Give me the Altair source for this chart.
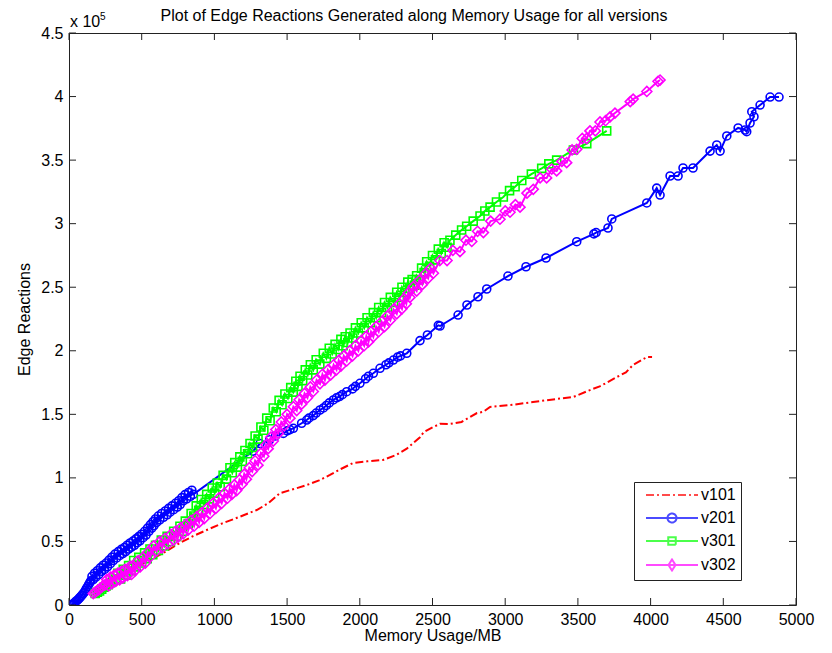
import altair as alt
import pandas as pd

# ---------------- data (memory usage in MB, edge reactions in units of 1e5) ----------------
names = ["v101", "v201", "v301", "v302"]
colors = ["#FF0000", "#0000FF", "#00FF00", "#FF00FF"]

v101_mem = [200, 300, 400, 466, 557, 650, 763, 850, 947, 1050, 1176, 1291, 1370, 1451, 1540,
            1635, 1720, 1795, 1870, 1953, 2050, 2160, 2250, 2323, 2414, 2440, 2504, 2552, 2620,
            2700, 2806, 2850, 2896, 3050, 3191, 3350, 3467, 3583, 3650, 3700, 3769, 3830, 3879,
            3976, 4010]
v101_edges = [0.13, 0.21, 0.27, 0.30, 0.354, 0.41, 0.488, 0.54, 0.59, 0.64, 0.695, 0.747, 0.80,
              0.88, 0.91, 0.944, 0.98, 1.023, 1.07, 1.117, 1.13, 1.141, 1.18, 1.23, 1.32, 1.36,
              1.40, 1.425, 1.424, 1.44, 1.51, 1.52, 1.558, 1.575, 1.597, 1.62, 1.636, 1.691,
              1.72, 1.75, 1.794, 1.83, 1.888, 1.951, 1.951]

v201_mem = [18, 25, 32, 40, 48, 56, 64, 72, 80, 88, 96, 105, 113, 120, 128, 135, 143, 150, 158,
            167, 176, 185, 195, 205, 215, 225, 235, 245, 255, 265, 275, 285, 295, 305, 316, 328,
            339, 350, 360, 370, 380, 390, 400, 410, 420, 430, 440, 450, 460, 470, 479, 488, 499,
            510, 520, 530, 540, 550, 560, 570, 578, 585, 594, 603, 614, 625, 637, 650, 662, 675,
            685, 695, 708, 720, 732, 745, 755, 765, 776, 786, 798, 810, 822, 835, 845, 855,
            1265, 1314, 1380, 1420, 1474, 1500, 1520, 1543, 1600, 1635, 1650,
            1680, 1700, 1726, 1750, 1770, 1790, 1818, 1840, 1860, 1880, 1910, 1950, 1970, 2001,
            2040, 2060, 2093, 2139, 2180, 2200, 2231, 2260, 2280, 2323, 2414, 2465, 2540, 2552,
            2676, 2737, 2813, 2873, 3019, 3143, 3281, 3492, 3610, 3625, 3707, 3733, 3974, 4042,
            4065, 4134, 4189, 4223, 4292, 4409, 4455, 4478, 4524, 4602, 4650, 4661, 4684, 4711,
            4696, 4753, 4822, 4883]
v201_edges = [0.00, 0.005, 0.012, 0.02, 0.03, 0.037, 0.045, 0.055, 0.065, 0.075, 0.088, 0.10,
              0.115, 0.13, 0.145, 0.16, 0.175, 0.19, 0.225, 0.20, 0.25, 0.22, 0.27, 0.24, 0.292,
              0.265, 0.313, 0.28, 0.33, 0.30, 0.353, 0.325, 0.377, 0.35, 0.40, 0.37, 0.42, 0.39,
              0.438, 0.405, 0.452, 0.42, 0.47, 0.44, 0.488, 0.455, 0.503, 0.47, 0.52, 0.49,
              0.538, 0.505, 0.557, 0.53, 0.58, 0.55, 0.605, 0.58, 0.632, 0.605, 0.655, 0.625,
              0.677, 0.65, 0.70, 0.67, 0.72, 0.69, 0.74, 0.71, 0.76, 0.73, 0.78, 0.75, 0.80,
              0.77, 0.82, 0.79, 0.845, 0.82, 0.868, 0.835, 0.885, 0.855, 0.903, 0.87,
              1.21, 1.27, 1.30, 1.33, 1.35, 1.37, 1.38, 1.39, 1.43, 1.455,
              1.47, 1.49, 1.51, 1.534, 1.55, 1.57, 1.59, 1.613, 1.63, 1.64, 1.655, 1.678, 1.70,
              1.72, 1.744, 1.78, 1.80, 1.823, 1.862, 1.89, 1.905, 1.927, 1.95, 1.96, 1.98, 2.08,
              2.124, 2.20, 2.195, 2.281, 2.36, 2.425, 2.486, 2.588, 2.661, 2.73, 2.858, 2.92,
              2.93, 2.966, 3.037, 3.163, 3.28, 3.225, 3.375, 3.375, 3.438, 3.438, 3.571, 3.619,
              3.571, 3.69, 3.753, 3.737, 3.724, 3.792, 3.841, 3.881, 3.933, 3.996, 3.996]

v301_mem = [180, 195, 210, 225, 240, 255, 270, 285, 300, 318, 335, 355, 373, 392, 410, 428, 445,
            462, 480, 500, 520, 538, 557, 576, 595, 615, 635, 655, 675, 698, 720, 740, 763, 782,
            800, 820, 840, 858, 875, 892, 910, 928, 947, 966, 985, 1002, 1020, 1040, 1060, 1083,
            1107, 1123, 1140, 1158, 1175, 1192, 1210, 1228, 1245, 1262, 1280, 1300, 1320, 1340,
            1360, 1383, 1405, 1425, 1445, 1465, 1485, 1505, 1525, 1542, 1560, 1575, 1589, 1607,
            1625, 1642, 1660, 1680, 1700, 1725, 1749, 1770, 1790, 1810, 1830, 1850, 1870, 1885,
            1900, 1917, 1933, 1952, 1970, 1990, 2010, 2030, 2050, 2072, 2093, 2112, 2130, 2150,
            2170, 2190, 2210, 2232, 2254, 2272, 2290, 2310, 2330, 2345, 2360, 2375, 2391, 2408,
            2425, 2442, 2460, 2480, 2500, 2520, 2540, 2560, 2580, 2600, 2620, 2660, 2700, 2735,
            2780, 2827, 2860, 2896, 2940, 2987, 3030, 3068, 3114, 3180, 3251, 3300, 3354, 3469,
            3561, 3698]
v301_edges = [0.09, 0.10, 0.11, 0.125, 0.14, 0.15, 0.16, 0.175, 0.19, 0.205, 0.25, 0.205, 0.28,
              0.235, 0.31, 0.27, 0.35, 0.30, 0.375, 0.33, 0.41, 0.365, 0.44, 0.395, 0.47, 0.43,
              0.51, 0.465, 0.54, 0.50, 0.58, 0.54, 0.62, 0.58, 0.66, 0.64, 0.72, 0.70, 0.78,
              0.745, 0.83, 0.79, 0.87, 0.835, 0.92, 0.88, 0.96, 0.93, 1.02, 0.99, 1.08, 1.04,
              1.12, 1.085, 1.165, 1.13, 1.215, 1.19, 1.27, 1.24, 1.33, 1.305, 1.40, 1.375, 1.47,
              1.45, 1.55, 1.52, 1.61, 1.575, 1.66, 1.625, 1.71, 1.675, 1.76, 1.72, 1.80, 1.765,
              1.85, 1.81, 1.89, 1.85, 1.93, 1.895, 1.98, 1.94, 2.02, 1.975, 2.05, 2.01, 2.09,
              2.04, 2.11, 2.065, 2.14, 2.10, 2.18, 2.14, 2.22, 2.18, 2.26, 2.22, 2.30, 2.26, 2.34,
              2.30, 2.38, 2.34, 2.42, 2.38, 2.46, 2.42, 2.50, 2.46, 2.54, 2.49, 2.56, 2.515, 2.59,
              2.56, 2.65, 2.615, 2.70, 2.665, 2.75, 2.715, 2.80, 2.765, 2.85, 2.815, 2.87, 2.91,
              2.95, 2.98, 3.02, 3.06, 3.10, 3.13, 3.17, 3.21, 3.26, 3.29, 3.34, 3.39, 3.435,
              3.47, 3.50, 3.58, 3.63, 3.73]

v302_mem = [167, 180, 190, 203, 215, 228, 240, 250, 259, 272, 285, 298, 310, 322, 335, 348, 360,
            372, 385, 402, 420, 430, 440, 455, 472, 490, 508, 525, 542, 560, 582, 603, 622, 640,
            660, 680, 700, 720, 735, 750, 768, 786, 803, 820, 840, 860, 878, 895, 912, 930, 950,
            970, 990, 1010, 1030, 1050, 1070, 1090, 1105, 1120, 1137, 1153, 1172, 1190, 1205,
            1220, 1240, 1260, 1280, 1300, 1320, 1340, 1355, 1370, 1388, 1405, 1422, 1440, 1460,
            1480, 1500, 1520, 1543, 1566, 1583, 1600, 1620, 1640, 1660, 1680, 1703, 1726, 1743,
            1760, 1780, 1800, 1820, 1840, 1855, 1870, 1890, 1910, 1930, 1950, 1970, 1990, 2010,
            2030, 2045, 2060, 2077, 2093, 2112, 2130, 2150, 2170, 2190, 2210, 2232, 2254, 2272,
            2290, 2305, 2320, 2333, 2345, 2368, 2391, 2410, 2430, 2450, 2470, 2488, 2506, 2550,
            2600, 2640, 2689, 2730, 2770, 2810, 2850, 2900, 2964, 3000, 3033, 3070, 3102, 3150,
            3193, 3240, 3285, 3320, 3354, 3390, 3423, 3460, 3492, 3530, 3560, 3583, 3620, 3652,
            3690, 3721, 3755, 3860, 3880, 3974, 4051, 4065]
v302_edges = [0.09, 0.10, 0.11, 0.12, 0.13, 0.145, 0.155, 0.16, 0.20, 0.15, 0.22, 0.17, 0.235,
              0.185, 0.25, 0.198, 0.265, 0.213, 0.28, 0.232, 0.305, 0.24, 0.31, 0.27, 0.345,
              0.30, 0.375, 0.33, 0.415, 0.38, 0.465, 0.425, 0.498, 0.45, 0.525, 0.48, 0.555,
              0.51, 0.582, 0.535, 0.608, 0.56, 0.635, 0.59, 0.665, 0.62, 0.695, 0.65, 0.725,
              0.68, 0.76, 0.72, 0.80, 0.76, 0.84, 0.80, 0.88, 0.84, 0.915, 0.87, 0.945, 0.90,
              0.985, 0.95, 1.03, 0.99, 1.08, 1.05, 1.135, 1.10, 1.195, 1.17, 1.26, 1.23, 1.32,
              1.29, 1.38, 1.35, 1.44, 1.41, 1.50, 1.47, 1.56, 1.53, 1.615, 1.58, 1.665, 1.63,
              1.715, 1.68, 1.77, 1.74, 1.815, 1.77, 1.85, 1.81, 1.89, 1.85, 1.925, 1.88, 1.96,
              1.92, 2.00, 1.96, 2.04, 2.00, 2.08, 2.04, 2.115, 2.07, 2.15, 2.11, 2.19, 2.15,
              2.23, 2.19, 2.275, 2.24, 2.325, 2.29, 2.37, 2.33, 2.41, 2.37, 2.455, 2.42, 2.505,
              2.47, 2.555, 2.52, 2.605, 2.57, 2.65, 2.61, 2.71, 2.71, 2.79, 2.78, 2.87, 2.86,
              2.94, 2.93, 3.02, 3.035, 3.10, 3.09, 3.15, 3.13, 3.24, 3.27, 3.36, 3.36, 3.43,
              3.415, 3.49, 3.48, 3.58, 3.585, 3.67, 3.67, 3.73, 3.73, 3.80, 3.81, 3.84, 3.87,
              3.96, 3.98, 4.04, 4.12, 4.13]

x_ticks = [0, 500, 1000, 1500, 2000, 2500, 3000, 3500, 4000, 4500, 5000]
y_ticks = [0, 0.5, 1, 1.5, 2, 2.5, 3, 3.5, 4, 4.5]

title_text = "Plot of Edge Reactions Generated along Memory Usage for all versions"

# ---------------- layout ----------------
W, H = 727, 572
FONT = "Liberation Sans"
AXC = "#222222"
TICK_LEN = 7
FS = 16


def series_df(mem, edges, name):
    return pd.DataFrame({"mem": mem, "edges": edges, "series": name, "i": range(len(mem))})


dfs = {
    "v101": series_df(v101_mem, v101_edges, "v101"),
    "v201": series_df(v201_mem, v201_edges, "v201"),
    "v301": series_df(v301_mem, v301_edges, "v301"),
    "v302": series_df(v302_mem, v302_edges, "v302"),
}

xscale = alt.Scale(domain=[0, 5000], nice=False, zero=False)
yscale = alt.Scale(domain=[0, 4.5], nice=False, zero=False)

X = alt.X("mem:Q", scale=xscale, title="Memory Usage/MB",
          axis=alt.Axis(values=x_ticks, format="d", grid=False, ticks=False, tickSize=0,
                        domain=False, labelPadding=6, labelFontSize=FS, labelFont=FONT,
                        labelColor="black", titleFont=FONT, titleFontSize=FS,
                        titleFontWeight="normal", titleColor="black", titlePadding=0,
                        labelFlush=False))
Y = alt.Y("edges:Q", scale=yscale, title="Edge Reactions",
          axis=alt.Axis(values=y_ticks, format="~g", grid=False, ticks=False, tickSize=0,
                        domain=False, labelPadding=6, labelFontSize=FS, labelFont=FONT,
                        labelColor="black", titleFont=FONT, titleFontSize=FS,
                        titleFontWeight="normal", titleColor="black", titlePadding=8,
                        labelFlush=False))

marker_shapes = {"v201": ("circle", 64), "v301": ("square", 64), "v302": ("diamond", 100)}

layers = []
# v101: dash-dot line only
layers.append(
    alt.Chart(dfs["v101"]).mark_line(color=colors[0], strokeWidth=2, strokeDash=[8, 3, 2, 3],
                                     clip=True)
    .encode(x=X, y=Y, order="i:Q")
)
for k, name in enumerate(names[1:], start=1):
    shp, sz = marker_shapes[name]
    layers.append(
        alt.Chart(dfs[name]).mark_line(color=colors[k], strokeWidth=2, clip=True)
        .encode(x=X, y=Y, order="i:Q")
    )
    layers.append(
        alt.Chart(dfs[name]).mark_point(shape=shp, size=sz, filled=False, color=colors[k],
                                        strokeWidth=1.6, opacity=1, clip=True)
        .encode(x=X, y=Y)
    )

# inward tick marks on all four sides (MATLAB style)
xt = pd.DataFrame({"mem": x_ticks})
yt = pd.DataFrame({"edges": y_ticks})
layers.append(alt.Chart(xt).mark_rule(color=AXC, strokeWidth=1)
              .encode(x=X, y=alt.value(H), y2=alt.value(H - TICK_LEN)))
layers.append(alt.Chart(xt).mark_rule(color=AXC, strokeWidth=1)
              .encode(x=X, y=alt.value(0), y2=alt.value(TICK_LEN)))
layers.append(alt.Chart(yt).mark_rule(color=AXC, strokeWidth=1)
              .encode(y=Y, x=alt.value(0), x2=alt.value(TICK_LEN)))
layers.append(alt.Chart(yt).mark_rule(color=AXC, strokeWidth=1)
              .encode(y=Y, x=alt.value(W), x2=alt.value(W - TICK_LEN)))

# title and exponent label "x 10^5"
one = pd.DataFrame({"k": [0]})
layers.append(alt.Chart(one).mark_text(text=title_text, font=FONT, fontSize=FS, align="center",
                                       baseline="alphabetic", color="black")
              .encode(x=alt.value(345), y=alt.value(-12)))
layers.append(alt.Chart(one).mark_text(text="x 10", font=FONT, fontSize=FS, align="left",
                                       baseline="alphabetic", color="black")
              .encode(x=alt.value(1), y=alt.value(-6)))
layers.append(alt.Chart(one).mark_text(text="5", font=FONT, fontSize=10, align="left",
                                       baseline="alphabetic", color="black")
              .encode(x=alt.value(31), y=alt.value(-13)))

# legend (MATLAB style: line sample with marker), built from an empty layer with explicit scales
legend_paths = [
    "M-5.2,0H5.2",
    "M-5.2,0H5.2M0.9,0A0.9,0.9 0 1,1 -0.9,0A0.9,0.9 0 1,1 0.9,0",
    "M-5.2,0H5.2M-0.75,-0.75H0.75V0.75H-0.75Z",
    "M-5.2,0H5.2M0,-1.1L0.7,0L0,1.1L-0.7,0Z",
]
leg = alt.Legend(title=None, orient="none", legendX=565, legendY=449, symbolSize=100,
                 symbolStrokeWidth=2, symbolOffset=25, labelOffset=21, labelFont=FONT,
                 labelFontSize=FS, labelColor="black", rowPadding=6, padding=5,
                 strokeColor="#222222", fillColor="white", cornerRadius=0,
                 symbolFillColor="transparent")
leg_df = pd.DataFrame({"series": names, "mem": [0] * 4, "edges": [0] * 4})
layers.append(
    alt.Chart(leg_df).transform_filter("false")
    .mark_point(filled=False, strokeWidth=2)
    .encode(
        x=X, y=Y,
        color=alt.Color("series:N", scale=alt.Scale(domain=names, range=colors), legend=leg),
        shape=alt.Shape("series:N", scale=alt.Scale(domain=names, range=legend_paths), legend=leg),
        strokeDash=alt.StrokeDash("series:N",
                                  scale=alt.Scale(domain=names,
                                                  range=[[8, 3, 2, 3], [1, 0], [1, 0], [1, 0]]),
                                  legend=leg),
    )
)

chart = alt.layer(*layers).properties(
    width=W, height=H,
    autosize=alt.AutoSizeParams(type="none"),
    padding={"left": 69, "top": 33, "right": 36, "bottom": 48},
    background="white",
).configure_view(stroke=AXC, strokeWidth=1)

chart.save("out.html", embed_options={"renderer": "svg", "actions": False})
